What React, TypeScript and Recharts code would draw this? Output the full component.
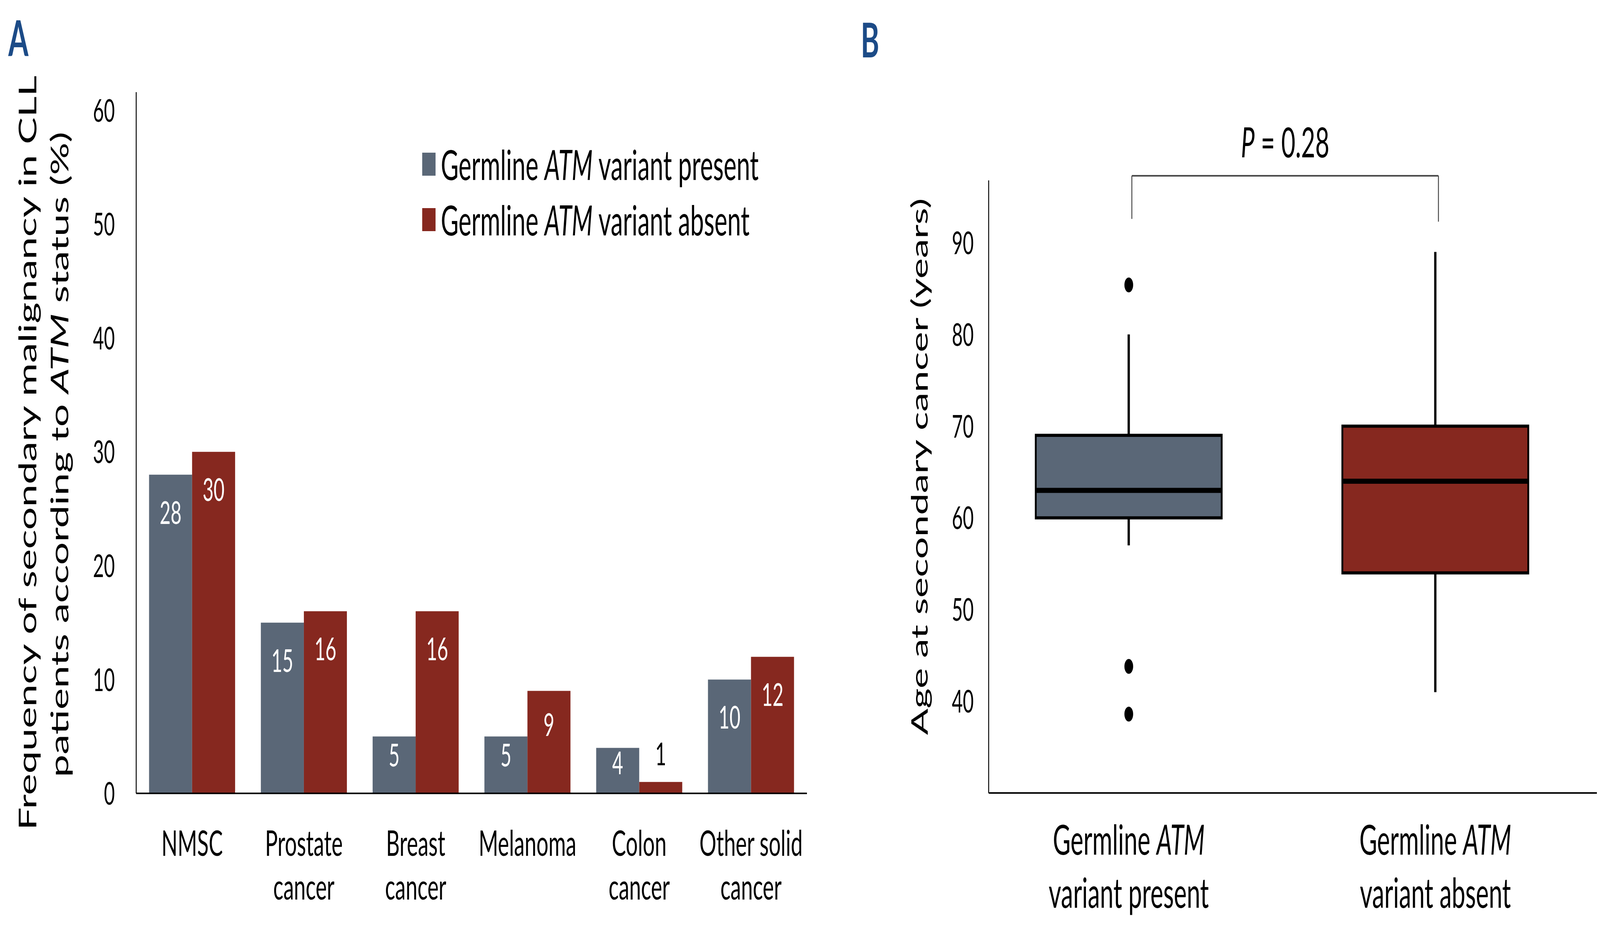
import React, { useState } from 'react';
import {
  ComposedChart, BarChart, Bar, XAxis, YAxis, Scatter, LabelList, Legend, ReferenceLine,
} from 'recharts';

const FONT = "Lato, 'Open Sans', sans-serif";
const GRAY = '#5a6777';
const RED = '#86281f';
const PAGE_W = 6954;
const PAGE_H = 2405;

// Panel A
const categories = ['NMSC', 'Prostate cancer', 'Breast cancer', 'Melanoma', 'Colon cancer', 'Other solid cancer'];
const categoryLines = [['NMSC'], ['Prostate', 'cancer'], ['Breast', 'cancer'], ['Melanoma'], ['Colon', 'cancer'], ['Other solid', 'cancer']];
const presentValues = [28, 15, 5, 5, 4, 10];
const absentValues = [30, 16, 16, 9, 1, 12];
const freqTicks = [0, 10, 20, 30, 40, 50, 60];

// Panel B
const groupX = [1, 2];
const groupLines = [['Germline ', 'ATM', 'variant present'], ['Germline ', 'ATM', 'variant absent']];
const whiskerLow = [57, 41];
const quart1 = [60, 54];
const medians = [63, 64];
const quart3 = [69, 70];
const whiskerHigh = [80, 89];
const boxColors = [GRAY, RED];
const outlierX = [1, 1, 1];
const outlierAge = [85.4, 43.8, 38.6];
const ageTicks = [40, 50, 60, 70, 80, 90];
const pValue = 'P = 0.28';

const barData = categories.map((c, i) => ({ category: c, present: presentValues[i], absent: absentValues[i] }));
const boxData = groupX.map((x, i) => ({
  x, min: whiskerLow[i], q1: quart1[i], median: medians[i], q3: quart3[i], max: whiskerHigh[i], fill: boxColors[i],
}));
const outlierData = outlierX.map((x, i) => ({ x, y: outlierAge[i] }));

const ValueLabel = (props: any) => {
  const { x, y, width, height, value } = props;
  const small = value < 3;
  const cx = Number(x) + Number(width) / 2;
  const inset = Math.min(97, Number(height) * 0.33);
  const base = small ? Number(y) - 72 + 29 : Number(y) + inset + 29;
  return (
    <text x={cx} y={base} textAnchor="middle" fill={small ? '#000' : '#fff'} fontSize={82} fontFamily={FONT}>
      {value}
    </text>
  );
};

const CategoryTick = (props: any) => {
  const { x, y, payload } = props;
  const lines = categoryLines[categories.indexOf(payload.value)] || [payload.value];
  return (
    <g>
      {lines.map((l, i) => (
        <text key={i} x={x} y={y + 160 + i * 112} textAnchor="middle" fontSize={92} fill="#000" fontFamily={FONT}>{l}</text>
      ))}
    </g>
  );
};

const GroupTick = (props: any) => {
  const { x, y, payload } = props;
  const lines = groupLines[groupX.indexOf(payload.value)];
  if (!lines) return null;
  return (
    <g>
      <text x={x} y={y + 158} textAnchor="middle" fontSize={106} fill="#000" fontFamily={FONT}>
        {lines[0]}<tspan fontStyle="italic">{lines[1]}</tspan>
      </text>
      <text x={x} y={y + 294} textAnchor="middle" fontSize={106} fill="#000" fontFamily={FONT}>{lines[2]}</text>
    </g>
  );
};

const BoxShape = (props: any) => {
  const { x, y, width, height, payload } = props;
  const { min, q1, median, q3, max, fill } = payload;
  const ppu = height / (q3 - q1);
  const cx = x + width / 2;
  const yMed = y + (q3 - median) * ppu;
  const yMax = y - (max - q3) * ppu;
  const yMin = y + height + (q1 - min) * ppu;
  return (
    <g>
      <line x1={cx} x2={cx} y1={yMax} y2={y} stroke="#000" strokeWidth={10} />
      <line x1={cx} x2={cx} y1={y + height} y2={yMin} stroke="#000" strokeWidth={10} />
      <rect x={x} y={y} width={width} height={height} fill={fill} stroke="#000" strokeWidth={8} />
      <line x1={x} x2={x + width} y1={yMed} y2={yMed} stroke="#000" strokeWidth={13} />
    </g>
  );
};

const LegendBox = () => {
  const rows = [
    { color: GRAY, rest: 'variant present' },
    { color: RED, rest: 'variant absent' },
  ];
  return (
    <div style={{ fontFamily: FONT, fontSize: 106, color: '#000' }}>
      {rows.map((r) => (
        <div key={r.rest} style={{ display: 'flex', alignItems: 'center', height: 142, lineHeight: 1 }}>
          <span style={{ display: 'inline-block', width: 58, height: 59, background: r.color }} />
          <span style={{ marginLeft: 23, whiteSpace: 'nowrap' }}>
            Germline <i>ATM</i> {r.rest}
          </span>
        </div>
      ))}
    </div>
  );
};

export default function App() {
  // the browser may be narrower than the figure, so fit the figure into the window
  const [view] = useState(() => ({ w: window.innerWidth || PAGE_W, h: window.innerHeight || PAGE_H }));
  const sx = Math.min(1, view.w / PAGE_W);
  const sy = Math.min(1, view.h / PAGE_H);

  return (
    <div style={{ margin: -8, width: PAGE_W * sx, height: PAGE_H * sy, overflow: 'hidden', background: '#fff' }}>
      <div style={{
        position: 'relative', width: PAGE_W, height: PAGE_H, fontFamily: FONT,
        transform: `scale(${sx}, ${sy})`, transformOrigin: '0 0',
      }}>
        <svg width={PAGE_W} height={200} style={{ position: 'absolute', left: 0, top: 0 }}>
          <text x={36} y={144} fontSize={126} fontWeight={700} fill="#1c4b87" fontFamily={FONT}>A</text>
          <text x={3741} y={147} fontSize={122} fontWeight={700} fill="#1c4b87" fontFamily={FONT}>B</text>
        </svg>

        <div style={{ position: 'absolute', left: 0, top: 0 }}>
          <BarChart width={3600} height={2405} data={barData} margin={{ top: 236, right: 93, bottom: 343, left: 0 }}
            barCategoryGap="11.5%" barGap={0}>
            <XAxis dataKey="category" tick={<CategoryTick />} tickLine={false} tickSize={0} tickMargin={0}
              axisLine={{ stroke: '#000', strokeWidth: 4 }} interval={0} />
            <YAxis width={592} domain={[0, 61.6]} ticks={freqTicks} tickLine={false} tickSize={0} tickMargin={93}
              axisLine={{ stroke: '#000', strokeWidth: 4 }} tick={{ fontSize: 82, fill: '#000', fontFamily: FONT }}
              allowDataOverflow
              label={{
                content: () => (
                  <g fontFamily={FONT} fontSize={104} fill="#000">
                    <text transform="translate(158,1160) rotate(-90)" textAnchor="middle">
                      Frequency of secondary malignancy in CLL
                    </text>
                    <text transform="translate(297,1164) rotate(-90)" textAnchor="middle">
                      patients according to <tspan fontStyle="italic">ATM</tspan> status (%)
                    </text>
                  </g>
                ),
              }} />
            <Legend layout="vertical" align="center" verticalAlign="middle" content={<LegendBox />}
              wrapperStyle={{ position: 'absolute', left: 1835, top: 349, width: 'auto', height: 'auto' }} />
            <Bar dataKey="present" name="Germline ATM variant present" fill={GRAY} isAnimationActive={false}>
              <LabelList dataKey="present" content={<ValueLabel />} />
            </Bar>
            <Bar dataKey="absent" name="Germline ATM variant absent" fill={RED} isAnimationActive={false}>
              <LabelList dataKey="absent" content={<ValueLabel />} />
            </Bar>
          </BarChart>
        </div>

        <div style={{ position: 'absolute', left: 3600, top: 0 }}>
          <ComposedChart width={3354} height={2405} data={boxData} margin={{ top: 462, right: 0, bottom: 344, left: 0 }}>
            <XAxis type="number" dataKey="x" domain={[0.543, 2.537]} ticks={groupX} allowDataOverflow
              tick={<GroupTick />} tickLine={false} tickSize={0} tickMargin={0} interval={0}
              axisLine={{ stroke: '#000', strokeWidth: 4 }} />
            <YAxis type="number" width={697} domain={[30, 96.8]} ticks={ageTicks} allowDataOverflow
              tickLine={false} tickSize={0} tickMargin={65}
              axisLine={{ stroke: '#000', strokeWidth: 4 }} tick={{ fontSize: 82, fill: '#000', fontFamily: FONT }}
              label={{
                content: () => (
                  <text transform="translate(433,1195) rotate(-90)" textAnchor="middle" fontFamily={FONT} fontSize={100} fill="#000">
                    Age at secondary cancer (years)
                  </text>
                ),
              }} />
            <Bar dataKey={(d: any) => [d.q1, d.q3]} barSize={808} shape={<BoxShape />} isAnimationActive={false} />
            <Scatter data={outlierData} dataKey="y" isAnimationActive={false}
              shape={(p: any) => <circle cx={p.cx} cy={p.cy} r={19} fill="#000" />} />
            <ReferenceLine segment={[{ x: 1.01, y: 97.3 }, { x: 2.01, y: 97.3 }]} stroke="#444" strokeWidth={4} ifOverflow="visible"
              label={{
                content: (p: any) => (
                  <text x={p.viewBox.x + p.viewBox.width / 2} y={p.viewBox.y - 47} textAnchor="middle"
                    fontFamily={FONT} fontSize={106} fill="#000">
                    <tspan fontStyle="italic">{pValue.slice(0, 1)}</tspan>{pValue.slice(1)}
                  </text>
                ),
              }} />
            <ReferenceLine segment={[{ x: 1.01, y: 97.3 }, { x: 1.01, y: 92.6 }]} stroke="#444" strokeWidth={4} ifOverflow="visible" />
            <ReferenceLine segment={[{ x: 2.01, y: 97.3 }, { x: 2.01, y: 92.3 }]} stroke="#444" strokeWidth={4} ifOverflow="visible" />
          </ComposedChart>
        </div>
      </div>
    </div>
  );
}
